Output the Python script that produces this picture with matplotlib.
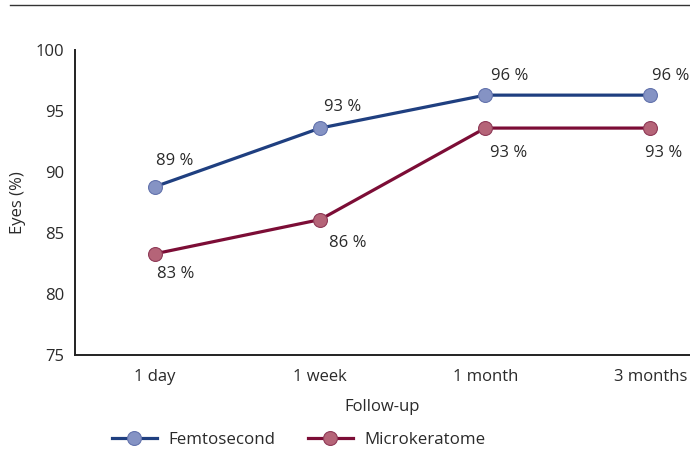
import matplotlib.pyplot as plt
from matplotlib.lines import Line2D

# Données
periodes = ["1 day", "1 week", "1 month", "3 months"]
femto = [88.8, 93.6, 96.3, 96.3]
micro = [83.3, 86.1, 93.6, 93.6]
femto_labels = ["89 %", "93 %", "96 %", "96 %"]
micro_labels = ["83 %", "86 %", "93 %", "93 %"]

plt.rcParams['font.family'] = ['Open Sans', 'DejaVu Sans']

bleu = "#1f3f80"
bleu_clair = "#8593c4"
rouge = "#7c0d36"
rouge_clair = "#b56478"
texte = "#2a2a2a"

fig = plt.figure(figsize=(6.9, 4.5), dpi=100)
ax = fig.add_axes([75 / 690, 1 - 355 / 450, 1 - 75 / 690, 305 / 450])

x = list(range(len(periodes)))
ax.plot(x, femto, color=bleu, lw=2.3, marker='o', ms=10,
        mfc=bleu_clair, mec="#6373ad", mew=0.8, label="Femtosecond", zorder=3)
ax.plot(x, micro, color=rouge, lw=2.3, marker='o', ms=10,
        mfc=rouge_clair, mec="#8f3a57", mew=0.8, label="Microkeratome", zorder=3)

# Etiquettes des points
off_f = [(20, 26), (22, 21), (24, 19), (20, 19)]
off_m = [(21, -20), (28, -23), (23, -25), (13, -25)]
for i in x:
    ax.annotate(femto_labels[i], (i, femto[i]), xytext=off_f[i], textcoords='offset pixels',
                ha='center', va='center', fontsize=12, color=texte)
    ax.annotate(micro_labels[i], (i, micro[i]), xytext=off_m[i], textcoords='offset pixels',
                ha='center', va='center', fontsize=12, color=texte)

ax.set_xlim(-0.485, 3.24)
ax.set_ylim(75, 100)
ax.set_yticks([75, 80, 85, 90, 95, 100])
ax.set_xticks(x)
ax.set_xticklabels(periodes)
ax.tick_params(length=0, labelsize=12, colors=texte, pad=8)
ax.tick_params(axis='x', pad=10)
for s in ['top', 'right']:
    ax.spines[s].set_visible(False)
for s in ['left', 'bottom']:
    ax.spines[s].set_linewidth(1.4)
    ax.spines[s].set_color("#222222")

ax.set_ylabel("Eyes (%)", fontsize=12, color=texte, labelpad=7)
ax.set_xlabel("Follow-up", fontsize=12, color=texte, labelpad=10)

fig.legend(loc='center left', bbox_to_anchor=(112 / 690, 1 - 440 / 450), ncol=2,
           frameon=False, fontsize=12.2, handlelength=2.65, columnspacing=1.9,
           handletextpad=0.7, borderpad=0, borderaxespad=0, labelcolor=texte)

# Ligne en haut
fig.add_artist(Line2D([10 / 690, 1], [1 - 5 / 450, 1 - 5 / 450], color="#333333", lw=1))

plt.savefig("out.png", dpi=100)
